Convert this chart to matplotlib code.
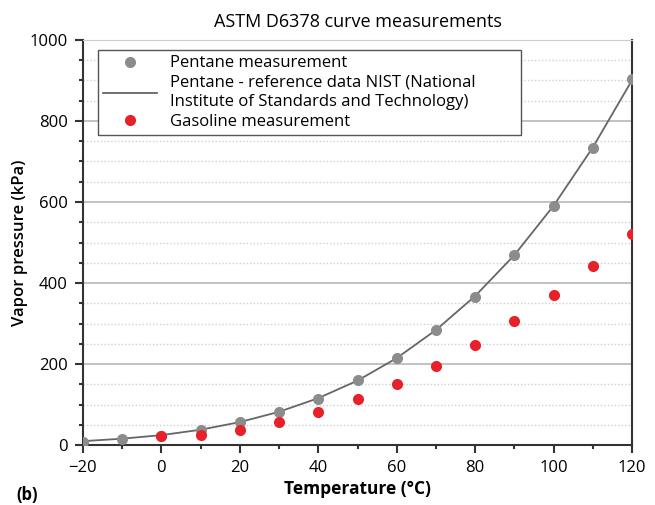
import numpy as np
import matplotlib
matplotlib.use("Agg")
import matplotlib.pyplot as plt
from matplotlib.ticker import MultipleLocator

plt.rcParams['font.family'] = ['Open Sans', 'DejaVu Sans']

temp = [-20, -10, 0, 10, 20, 30, 40, 50, 60, 70, 80, 90, 100, 110, 120]
pentane = [7, 14, 22, 37, 56, 81, 114, 160, 215, 283, 366, 468, 591, 733, 904]
nist = [9.5, 15.6, 24.4, 37.7, 56.6, 82, 115.7, 159, 214.6, 284, 368, 469, 591, 735, 901]
gas_temp = [0, 10, 20, 30, 40, 50, 60, 70, 80, 90, 100, 110, 120]
gasoline = [22, 25, 38, 56, 81, 113, 151, 196, 248, 307, 370, 442, 521]

fig = plt.figure(figsize=(6.55, 5.05), dpi=100)
ax = fig.add_axes([0.1267, 0.1188, 0.8383, 0.802])

ax.plot(temp, nist, color='#666666', lw=1.3, zorder=3,
        label='Pentane - reference data NIST (National\nInstitute of Standards and Technology)')
ax.plot(temp, pentane, 'o', color='#8c8c8c', ms=8, mec='none', zorder=4,
        label='Pentane measurement')
ax.plot(gas_temp, gasoline, 'o', color='#e8202a', ms=8, mec='none', zorder=5,
        label='Gasoline measurement')

ax.set_xlim(-20, 120)
ax.set_ylim(0, 1000)
ax.xaxis.set_major_locator(MultipleLocator(20))
ax.xaxis.set_minor_locator(MultipleLocator(10))
ax.yaxis.set_major_locator(MultipleLocator(200))
ax.yaxis.set_minor_locator(MultipleLocator(50))

ax.grid(which='major', axis='y', color='#b8b8b8', lw=1.2)
ax.grid(which='minor', axis='y', color='#d0d0d0', lw=1, ls=(0, (1, 1.5)))
ax.set_axisbelow(True)

ax.tick_params(which='major', length=6, width=1.5, labelsize=12, color='#333333', pad=5)
ax.tick_params(which='minor', length=3, width=1.5, color='#333333')

for s in ['left', 'bottom', 'right']:
    ax.spines[s].set_color('#333333')
    ax.spines[s].set_linewidth(1.5)
ax.spines['top'].set_color('#cccccc')

ax.set_title('ASTM D6378 curve measurements', fontsize=13, pad=9)
ax.set_xlabel('Temperature (°C)', fontsize=12.5, fontweight='bold', labelpad=3)
ax.set_ylabel('Vapor pressure (kPa)', fontsize=12, fontweight='semibold', labelpad=1)

h, l = ax.get_legend_handles_labels()
order = [1, 0, 2]
leg = ax.legend([h[i] for i in order], [l[i] for i in order], loc='upper left',
                bbox_to_anchor=(0.013, 0.0, 0.8, 0.995), mode='expand',
                fontsize=12, fancybox=False, framealpha=1, edgecolor='#555555',
                handlelength=3.2, borderpad=0.3, labelspacing=0.2, handletextpad=0.8)
leg.get_frame().set_linewidth(1.0)
for t in leg.get_texts():
    t.set_linespacing(1.3)

fig.text(0.025, 0.002, '(b)', fontsize=12, fontweight='bold', va='bottom')

fig.savefig('out.png', dpi=100)
